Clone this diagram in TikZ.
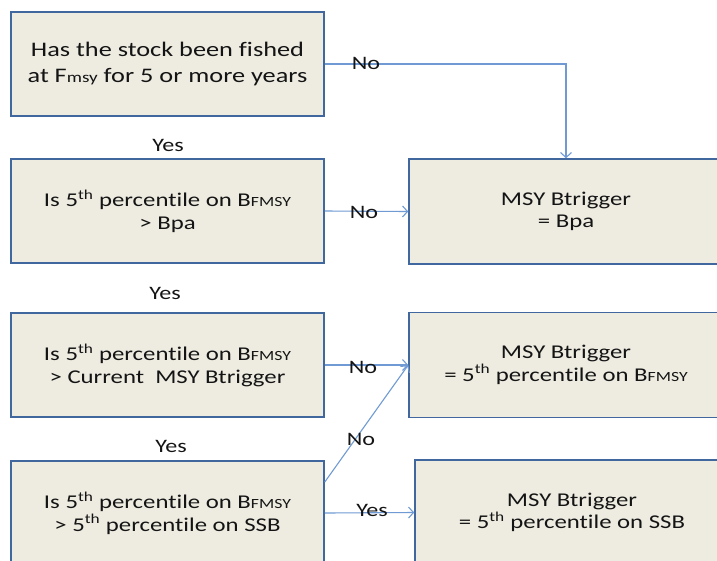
\documentclass[tikz,border=0pt]{standalone}
\usepackage{fontspec}
\setmainfont{Carlito}[FakeStretch=1.27, Ligatures=NoCommon]
\usetikzlibrary{arrows.meta}
\definecolor{boxfill}{HTML}{EEECE1}
\definecolor{boxedge}{HTML}{41689E}
\definecolor{linkblue}{HTML}{6F9AD3}
\definecolor{ink}{HTML}{141414}
% small same-baseline letters used in the subscripts
\newcommand\lowsz[1]{{\fontsize{14}{14}\selectfont #1}}
\newcommand\nth[1]{#1\textsuperscript{th}}
\begin{document}
\begin{tikzpicture}[x=1pt,y=-1pt,
  qbox/.style={draw=boxedge, fill=boxfill, line width=1.5pt, text=ink,
    minimum width=313pt, minimum height=104pt, align=center, inner sep=0pt,
    font=\fontsize{19.5}{22.5}\selectfont},
  rbox/.style={qbox, minimum width=314pt, minimum height=105pt},
  link/.style={draw=linkblue, line width=1.1pt,
    -{Straight Barb[length=5pt,width=11pt,line width=1.1pt]}},
  lbl/.style={text=ink, inner sep=0pt, font=\fontsize{19}{20}\selectfont}]
\useasboundingbox (0,0) rectangle (717,560);
\clip (0,0) rectangle (717,560);

% question boxes
\node[qbox, font=\fontsize{20.7}{26.7}\selectfont] (b1) at (167.5,64)
  {Has the stock been fished\\at F{\fontsize{15}{15}\selectfont msy} for 5 or more years};
\node[qbox] (b2) at (167.5,211) {Is \nth{5} percentile on B\lowsz{FMSY}\\> Bpa};
\node[qbox] (b3) at (167.5,365) {Is \nth{5} percentile on B\lowsz{FMSY}\\> Current\ \ MSY Btrigger};
\node[qbox] (b4) at (167.5,513) {Is \nth{5} percentile on B\lowsz{FMSY}\\> \nth{5} percentile on SSB};

% outcome boxes
\node[rbox] (r1) at (566,211.5) {MSY Btrigger\\= Bpa};
\node[rbox] (r2) at (566,365) {MSY Btrigger\\= \nth{5} percentile on B\lowsz{FMSY}};
\node[rbox] (r3) at (572,512.5) {MSY Btrigger\\= \nth{5} percentile on SSB};

% connectors
\draw[link] (b1.east) -| (r1.north);
\draw[link] (b2.east) -- (r1.west);
\draw[link] (b3.east) -- (r2.west);
\coordinate (b4up) at ([yshift=31pt]b4.east);
\draw[link] (b4up) -- (r2.west);
\draw[link] (b4.east) -- (r3.west);

% branch labels
\node[lbl] (n1) at (366,63) {No};
\node[lbl] (n2) at (364,212) {No};
\node[lbl] (n3) at (363,367) {No};
\node[lbl] (n4) at (361,439) {No};
\node[lbl] (y4) at (372,510) {Yes};
\node[lbl] (y1) at (168,145) {Yes};
\node[lbl] (y2) at (165,293) {Yes};
\node[lbl] (y3) at (171,446) {Yes};
\end{tikzpicture}
\end{document}
